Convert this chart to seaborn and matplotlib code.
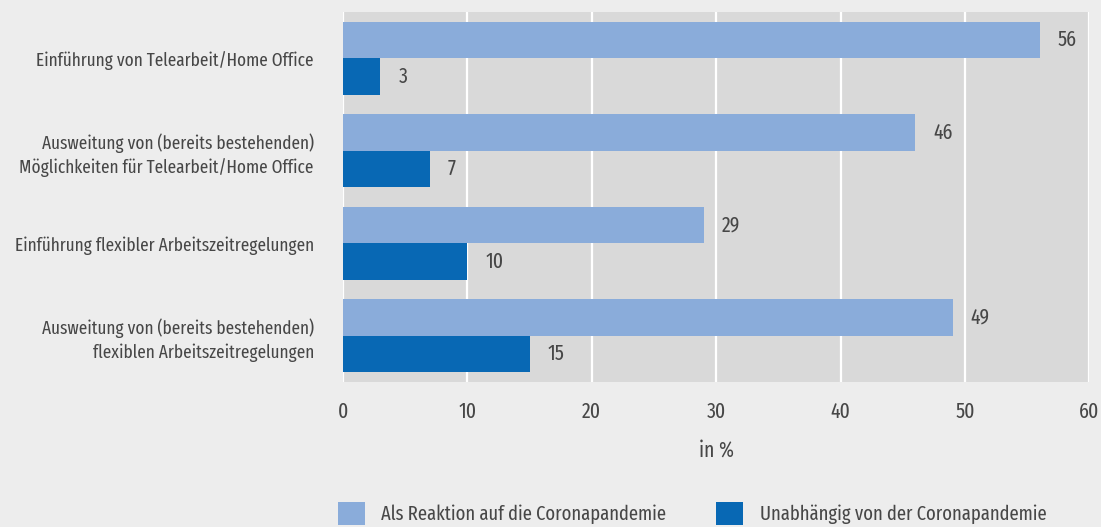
import matplotlib
matplotlib.use("Agg")
import matplotlib.pyplot as plt
import seaborn as sns
import pandas as pd
from matplotlib.patches import Patch
from matplotlib import font_manager

categories = [
    "Einführung von Telearbeit/Home Office",
    "Ausweitung von (bereits bestehenden)\nMöglichkeiten für Telearbeit/Home Office",
    "Einführung flexibler Arbeitszeitregelungen",
    "Ausweitung von (bereits bestehenden)\nflexiblen Arbeitszeitregelungen",
]
series_names = ["Als Reaktion auf die Coronapandemie", "Unabhängig von der Coronapandemie"]
reaktion = [56, 46, 29, 49]
unabhaengig = [3, 7, 10, 15]
x_ticks = [0, 10, 20, 30, 40, 50, 60]
colors = ["#8aacda", "#0868b4"]

df = pd.DataFrame({
    "Kategorie": categories * 2,
    "Serie": [series_names[0]] * 4 + [series_names[1]] * 4,
    "Wert": reaktion + unabhaengig,
})

sns.set_theme(style="white")
available = {f.name for f in font_manager.fontManager.ttflist}
prefs = ["Fira Sans Extra Condensed", "Fira Sans Condensed", "Roboto Condensed", "DejaVu Sans"]
fam = [p for p in prefs if p in available] or ["DejaVu Sans"]
plt.rcParams["font.family"] = fam
plt.rcParams["font.weight"] = "normal"
txt = "#474747"

fig = plt.figure(figsize=(11.01, 5.27), dpi=100, facecolor="#ededed")
ax = fig.add_axes([0.3115, 0.275, 0.9895 - 0.3115, 0.977 - 0.275])
ax.set_facecolor("#d9d9d9")

sns.barplot(data=df, y="Kategorie", x="Wert", hue="Serie", orient="h",
            palette=colors, ax=ax, width=0.79, saturation=1, legend=False,
            edgecolor="none", linewidth=0)

for c in ax.containers:
    ax.bar_label(c, padding=13, fontsize=15.5, color=txt)

ax.set_xlim(0, 59.8)
ax.set_xticks(x_ticks)
ax.grid(axis="x", color="white", linewidth=1.6)
ax.grid(axis="y", visible=False)
ax.set_axisbelow(True)
for s in ax.spines.values():
    s.set_visible(False)
ax.tick_params(axis="x", length=0, pad=14, labelsize=15.5, labelcolor=txt)
ax.tick_params(axis="y", length=0, pad=21, labelsize=13.5, labelcolor=txt)
for lab in ax.get_yticklabels():
    lab.set_horizontalalignment("right")
    lab.set_multialignment("right")
    lab.set_linespacing(1.35)
ax.set_ylabel("")
ax.set_xlabel("in %", fontsize=15.5, color=txt, labelpad=12)

handles = [Patch(facecolor=colors[0], edgecolor="none"), Patch(facecolor=colors[1], edgecolor="none")]
fig.legend(handles, series_names, loc="lower left", bbox_to_anchor=(0.2905, -0.03),
           ncol=2, frameon=False, fontsize=14.5, labelcolor=txt,
           handlelength=1.34, handleheight=1.34, handletextpad=0.8, columnspacing=2.5)

fig.savefig("out.png", dpi=100, facecolor=fig.get_facecolor())
